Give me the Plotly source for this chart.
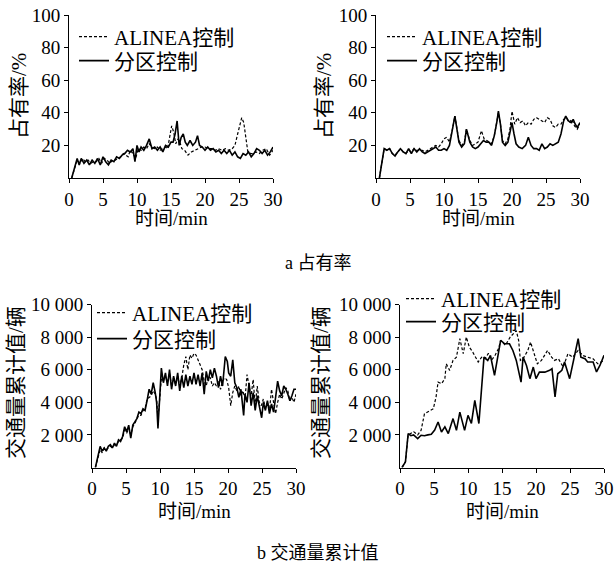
import plotly.graph_objects as go

# ---------------- data ----------------
# panel a-left: occupancy (%)
t_a1_zone = [0.4,1.2,1.5,1.8,2.2,2.6,3.0,3.4,3.8,4.2,4.6,5.0,5.4,5.8,6.2,6.6,7.0,7.4,7.8,8.2,8.6,9.0,9.4,9.7,10.0,10.3,10.6,11.0,11.4,11.8,12.2,12.6,13.0,13.4,13.8,14.2,14.6,15.0,15.3,15.6,15.9,16.2,16.5,16.8,17.1,17.4,17.8,18.2,18.6,18.9,19.2,19.6,20.0,20.4,20.8,21.2,21.6,22.0,22.4,22.8,23.2,23.6,24.0,24.4,24.8,25.2,25.6,26.0,26.4,26.8,27.2,27.6,28.0,28.4,28.8,29.2,29.6,30.0]
occ_a1_zone = [0,12,8,12,9,11,8,11,9,12,8,13,10,8,11,10,13,12,14,15,17,16,18,10,20,16,19,17,20,24,18,19,17,19,16,20,19,22,22,27,35,20,25,27,22,20,23,20,22,26,20,19,17,19,17,18,16,17,15,17,15,17,14,16,13,12,15,14,16,13,15,18,17,15,17,14,16,19]
t_a1_alinea = [0.4,1.2,1.6,2.0,2.4,2.8,3.2,3.6,4.0,4.4,4.8,5.2,5.6,6.0,6.4,6.8,7.2,7.6,8.0,8.4,8.7,9.0,9.4,9.8,10.2,10.6,11.0,11.4,11.8,12.2,12.6,13.0,13.4,13.8,14.2,14.5,14.8,15.1,15.4,15.7,16.0,16.3,16.6,17.0,17.5,18.0,18.5,19.0,19.5,20.0,20.5,21.0,21.5,22.0,22.5,23.0,23.5,24.0,24.4,24.8,25.1,25.4,25.7,26.0,26.3,26.7,27.0,27.5,28.0,28.5,29.0,29.5,30.0]
occ_a1_alinea = [0,11,9,12,10,11,9,10,10,12,9,12,11,9,11,11,12,13,15,14,13,17,15,12,18,17,19,18,21,19,18,19,17,18,19,18,25,32,28,21,24,22,18,17,14,16,17,18,19,19,18,18,17,18,17,18,17,18,20,27,33,37,34,24,16,15,15,16,15,17,18,14,17]

# panel a-right: occupancy (%)
t_a2_zone = [0.5,1.2,1.6,2.0,2.4,2.8,3.2,3.6,4.0,4.4,4.8,5.2,5.6,6.0,6.4,6.8,7.2,7.6,8.0,8.4,8.8,9.2,9.6,10.0,10.4,10.8,11.2,11.6,11.9,12.2,12.6,13.0,13.3,13.8,14.2,14.6,15.0,15.4,15.8,16.2,16.6,17.0,17.4,17.8,18.0,18.3,18.6,19.0,19.4,19.8,20.0,20.3,20.6,21.0,21.5,22.0,22.4,22.8,23.2,23.6,24.0,24.4,24.8,25.2,25.6,26.0,26.4,26.8,27.2,27.6,27.9,28.3,28.7,29.0,29.3,29.6,30.0]
occ_a2_zone = [0,18,17,18,15,13.5,16,18,16,15,18,15,18,16,18,16,15,16,17,18,19,17,17,18,17,20,28,38,30,22,19,21,30,22,19,18,19,21,23,22,22,20,26,35,41,33,22,20,22,30,34,27,21,19,18,20,25,20,18,18,17,21,18,19,21,20,21,22,27,35,38,35,34,36,33,31,34]
t_a2_alinea = [0.5,1.2,1.6,2.0,2.4,2.8,3.2,3.6,4.0,4.4,4.8,5.2,5.6,6.0,6.4,6.8,7.2,7.6,8.0,8.4,8.8,9.2,9.6,10.0,10.4,10.8,11.2,11.6,11.9,12.2,12.6,13.0,13.3,13.8,14.2,14.6,15.0,15.5,15.9,16.3,16.7,17.0,17.4,17.8,18.0,18.3,18.6,19.0,19.4,19.7,20.0,20.4,20.8,21.2,21.6,22.0,22.4,22.8,23.2,23.6,24.0,24.4,24.8,25.2,25.6,26.0,26.4,26.8,27.2,27.6,28.0,28.4,28.8,29.2,29.6,30.0]
occ_a2_alinea = [0,18,17,18,15,14,16,18,16,15,17,16,18,17,17,17,16,17,18,19,20,19,21,24,25,22,29,38,31,23,20,22,30,23,20,21,22,29,24,23,22,21,26,36,40,33,23,21,24,30,41,33,37,34,35,32,34,33,36,37,36,35,34,37,36,32,31,33,33,36,37,34,36,32,30,33]

# panel b-left: cumulative traffic volume (veh)
t_b1_zone = [0.5,1.2,1.5,1.8,2.1,2.4,2.7,3.0,3.3,3.6,3.9,4.2,4.5,4.8,5.1,5.4,5.7,6.0,6.3,6.6,6.9,7.2,7.5,7.8,8.1,8.4,8.7,9.0,9.3,9.5,9.7,10.0,10.2,10.5,10.8,11.1,11.4,11.7,12.0,12.3,12.6,12.9,13.2,13.5,13.8,14.1,14.4,14.7,15.0,15.3,15.6,15.9,16.2,16.5,16.8,17.1,17.4,17.7,18.0,18.3,18.6,18.9,19.2,19.6,19.9,20.1,20.4,20.7,21.0,21.3,21.6,21.9,22.3,22.5,22.8,23.1,23.4,23.7,24.0,24.3,24.6,24.95,25.2,25.5,25.8,26.1,26.4,26.7,27.0,27.3,27.6,27.9,28.2,28.5,28.8,29.1,29.4,29.7,30.0]
vol_b1_zone = [0,1300,1000,1200,1000,1300,1400,1200,1500,1300,1700,1600,1900,2500,2200,2600,1800,2600,2800,3000,3400,3300,3600,3500,4100,4800,4500,5200,4600,4000,2400,4500,6100,5200,5800,5000,6000,4800,5600,5000,5800,4700,5600,4900,5700,5000,5600,5100,5800,5100,5700,5000,5800,4500,5900,5300,6000,5500,6100,5600,4900,5600,5000,6800,6500,5800,5600,6600,5200,4900,4300,4800,3200,4500,4000,5200,3800,4600,3500,4400,3700,3050,4000,3500,4100,3300,3900,3400,4300,5300,4700,4400,5000,4800,4500,4100,4400,4800,4800]
t_b1_alinea = [0.5,1.2,1.5,1.8,2.1,2.4,2.7,3.0,3.3,3.6,3.9,4.2,4.5,4.8,5.1,5.4,5.7,6.0,6.3,6.6,6.9,7.2,7.5,7.8,8.1,8.4,8.7,9.0,9.3,9.5,9.7,10.0,10.2,10.5,10.8,11.1,11.4,11.7,12.0,12.3,12.6,12.9,13.2,13.5,13.8,14.1,14.4,14.7,15.0,15.3,15.6,15.9,16.2,16.5,16.8,17.1,17.4,17.7,18.0,18.3,18.6,18.9,19.2,19.5,19.8,20.1,20.4,20.7,21.0,21.3,21.6,21.9,22.2,22.5,22.8,23.1,23.4,23.7,24.0,24.3,24.6,24.9,25.2,25.5,25.8,26.1,26.4,26.7,27.0,27.3,27.6,27.9,28.2,28.5,28.8,29.1,29.4,29.7,30.0]
vol_b1_alinea = [0,1100,900,1200,1100,1200,1300,1200,1400,1400,1600,1700,1800,2300,2100,2400,2000,2500,2700,3000,3200,3200,3500,3600,4200,4300,4400,4700,4500,4200,3000,4400,5500,5300,5600,5200,5800,5000,5500,5100,5600,5000,5500,6300,6800,6000,6900,6700,7000,6900,6600,6400,6000,5300,5000,5600,5500,5000,5200,5000,5300,4800,5300,5500,5400,4900,3800,4600,5000,4700,5000,4400,4700,4200,5700,5000,4400,5400,3800,5000,4000,3800,4200,3600,4000,3500,4800,4000,3300,4000,4500,4200,4600,4900,4700,4100,4300,4000,4500]

# panel b-right: cumulative traffic volume (veh)
t_b2_zone = [0.3,0.8,1.2,1.6,2.0,2.6,3.1,3.6,4.1,4.6,5.1,5.6,6.1,6.6,7.1,7.8,8.3,8.8,9.5,10.0,10.5,11.0,11.6,12.35,12.9,13.3,13.9,14.4,14.8,15.4,16.1,16.6,17.1,17.8,18.1,18.6,19.1,19.6,20.0,20.5,21.3,22.0,22.35,22.8,23.2,23.8,24.2,24.95,25.4,26.2,26.6,27.2,27.6,28.4,28.9,29.4,30.0]
vol_b2_zone = [0,350,2080,1950,2000,1775,1980,1950,2000,2040,2300,2790,2180,2490,2080,3000,2280,3400,2280,3200,2700,4120,2700,6770,6570,6870,5650,6980,7800,7590,7590,7180,6570,5240,6770,6260,5450,6160,5450,5850,5850,5960,6060,4330,5750,5960,6470,5450,6260,7900,6770,6670,6470,6470,5860,6260,6880]
t_b2_alinea = [0.3,0.8,1.2,1.6,2.0,2.6,3.1,3.6,4.4,4.9,5.3,5.6,6.1,6.6,6.8,7.3,7.8,8.3,8.8,9.3,9.75,10.2,10.7,11.5,12.0,12.5,13.0,13.5,14.0,14.5,14.8,15.5,16.2,17.1,17.45,17.7,18.1,18.8,19.2,19.7,20.2,20.8,21.7,22.3,22.7,23.3,24.0,24.7,25.4,26.2,26.9,27.6,28.4,29.1,30.0]
vol_b2_alinea = [0,350,2000,2100,2200,2000,2280,3300,3510,3600,4320,5240,5140,5450,6360,5960,6570,6770,7900,6980,8000,7380,7080,6470,6770,6670,7000,6600,6900,7300,7800,7500,8000,8400,7790,6570,6670,7180,7690,6980,6360,6570,7180,6770,6570,6670,6160,6980,6770,7180,6870,6770,6670,6360,6570]

names = ["ALINEA控制", "分区控制"]
x_ticks = [0, 5, 10, 15, 20, 25, 30]
occ_ticks = [20, 40, 60, 80, 100]
vol_ticks = [2000, 4000, 6000, 8000, 10000]
vol_ticktext = ["2 000", "4 000", "6 000", "8 000", "10 000"]

FONT = "'Liberation Serif', 'Times New Roman', 'Noto Sans CJK SC', serif"
BLACK = "#000000"

W, H = 616, 570

def px_x(p):
    return p / W
def px_y(p):
    return 1 - p / H

fig = go.Figure()

# each legend row is its own legend so rows can be placed like the reference
panels = [
    ("x", "y", ("legend", "legend2"), (79, 37, 61), t_a1_alinea, occ_a1_alinea, t_a1_zone, occ_a1_zone),
    ("x2", "y2", ("legend3", "legend4"), (387, 37, 61), t_a2_alinea, occ_a2_alinea, t_a2_zone, occ_a2_zone),
    ("x3", "y3", ("legend5", "legend6"), (97, 313, 339), t_b1_alinea, vol_b1_alinea, t_b1_zone, vol_b1_zone),
    ("x4", "y4", ("legend7", "legend8"), (406, 299, 322), t_b2_alinea, vol_b2_alinea, t_b2_zone, vol_b2_zone),
]
leg_common = dict(font=dict(family=FONT, size=21, color=BLACK), bgcolor="rgba(0,0,0,0)",
                  borderwidth=0, itemwidth=30, xanchor="left", yanchor="middle",
                  itemclick=False, itemdoubleclick=False, visible=True)
legend_layout = {}
for xa, ya, (lg1, lg2), (lx, ly1, ly2), ta, va, tz, vz in panels:
    fig.add_trace(go.Scatter(x=ta, y=va, xaxis=xa, yaxis=ya, mode="lines", name=names[0],
                             legend=lg1, showlegend=True,
                             line=dict(color=BLACK, width=1.2, dash="3px,2px")))
    fig.add_trace(go.Scatter(x=tz, y=vz, xaxis=xa, yaxis=ya, mode="lines", name=names[1],
                             legend=lg2, showlegend=True,
                             line=dict(color=BLACK, width=1.6)))
    legend_layout[lg1] = dict(leg_common, x=px_x(lx - 5), y=px_y(ly1))
    legend_layout[lg2] = dict(leg_common, x=px_x(lx - 5), y=px_y(ly2))

# domains (pixel positions in the reference)
doms = {
    "1": ((69, 273), (15, 178)),
    "2": ((376, 580), (15, 178)),
    "3": ((92, 296), (304.5, 467.5)),
    "4": ((400, 604), (304.5, 467.5)),
}

axis_common = dict(showline=True, linecolor=BLACK, linewidth=1, ticks="outside",
                   ticklen=4, tickwidth=1, tickcolor=BLACK, showgrid=False, zeroline=False,
                   mirror=False, automargin=False, ticklabeloverflow="allow",
                   tickfont=dict(family=FONT, size=19, color=BLACK))

layout = dict(width=W, height=H, margin=dict(l=0, r=0, t=0, b=0, pad=0, autoexpand=False),
              paper_bgcolor="white", plot_bgcolor="white", showlegend=True,
              font=dict(family=FONT, color=BLACK))
layout.update(legend_layout)

for k, ((x0, x1), (y0, y1)) in doms.items():
    xname = "xaxis" if k == "1" else "xaxis" + k
    yname = "yaxis" if k == "1" else "yaxis" + k
    anchor_x = "y" if k == "1" else "y" + k
    anchor_y = "x" if k == "1" else "x" + k
    layout[xname] = dict(axis_common, domain=[px_x(x0), px_x(x1)], anchor=anchor_x,
                         range=[0, 30], tickvals=x_ticks)
    if k in ("1", "2"):
        layout[yname] = dict(axis_common, domain=[px_y(y1), px_y(y0)], anchor=anchor_y,
                             range=[0, 100], tickvals=occ_ticks)
    else:
        layout[yname] = dict(axis_common, domain=[px_y(y1), px_y(y0)], anchor=anchor_y,
                             range=[0, 10000], tickvals=vol_ticks, ticktext=vol_ticktext)

fig.update_layout(**layout)

# axis titles and captions
ann = []
def add_text(txt, x, y, angle=0, size=20):
    ann.append(dict(text=txt, x=px_x(x), y=px_y(y), xref="paper", yref="paper",
                    showarrow=False, textangle=angle, xanchor="center", yanchor="middle",
                    font=dict(family=FONT, size=size, color=BLACK)))

add_text("时间/min", 171, 219, size=19)
add_text("时间/min", 478, 219, size=19)
add_text("时间/min", 194, 511, size=19)
add_text("时间/min", 502, 511, size=19)
add_text("占有率/%", 19, 96, -90, size=21)
add_text("占有率/%", 324, 96, -90, size=21)
add_text("交通量累计值/辆", 16, 383, -90, size=21)
add_text("交通量累计值/辆", 321, 383, -90, size=21)
add_text("a 占有率", 318, 263, size=18)
add_text("b 交通量累计值", 318, 553, size=18)
fig.update_layout(annotations=ann)

# remove the page's default 8px body margin so the figure sits at the window origin
fig.write_html("out.html", config={"displayModeBar": False},
               post_script="document.body.style.margin='0px';")
